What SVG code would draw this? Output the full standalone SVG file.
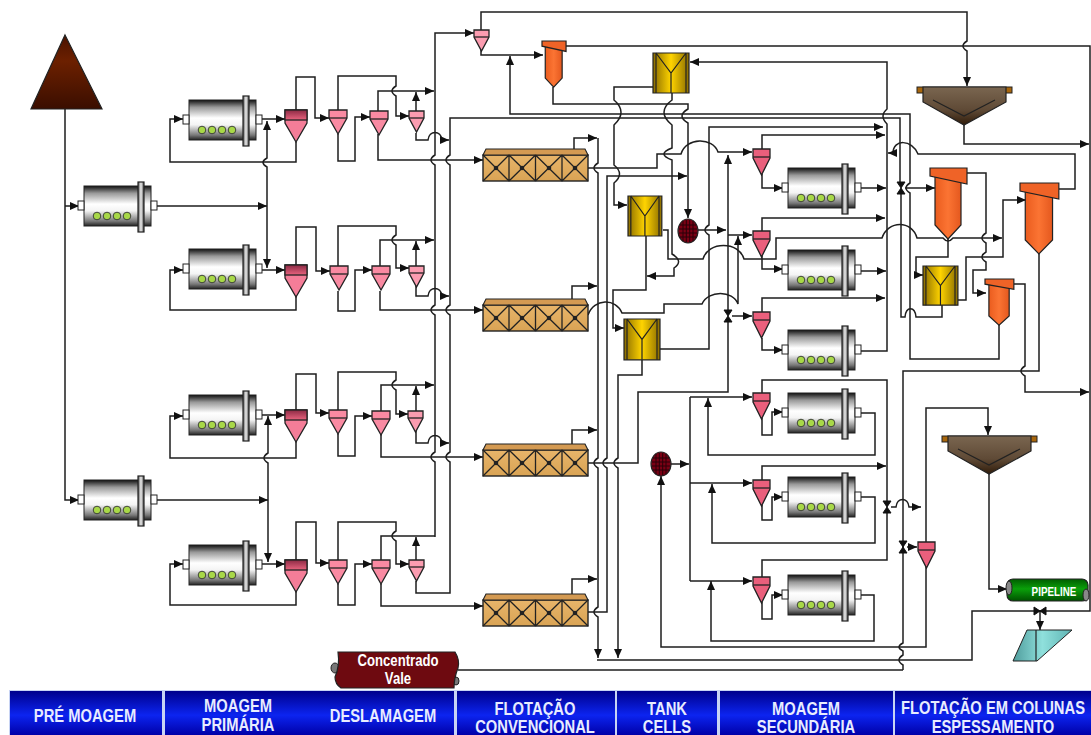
<svg xmlns="http://www.w3.org/2000/svg" width="1091" height="735" viewBox="0 0 1091 735">
<style>
.c path{fill:none;stroke:#1e1e1e;stroke-width:1.5}
.a{marker-end:url(#arrow)}
.s{stroke:#222;stroke-width:1.2;vector-effect:non-scaling-stroke}
.l{fill:none;stroke:#222;stroke-width:1.2;vector-effect:non-scaling-stroke}
.t{font-family:"Liberation Sans",Arial,sans-serif;font-weight:bold;fill:#fff;text-anchor:middle}
.b{font-size:18px;fill:#e8ecff}
</style>
<defs>
<marker id="arrow" markerUnits="userSpaceOnUse" markerWidth="10" markerHeight="8" refX="9" refY="4" orient="auto"><path d="M0,0L9,4L0,8Z" fill="#111"/></marker>
<linearGradient id="gMill" x1="0" y1="0" x2="0" y2="1"><stop offset="0" stop-color="#111"/><stop offset=".18" stop-color="#999"/><stop offset=".45" stop-color="#fff"/><stop offset=".62" stop-color="#f4f4f4"/><stop offset=".88" stop-color="#777"/><stop offset="1" stop-color="#222"/></linearGradient>
<linearGradient id="gFl" x1="0" y1="0" x2="1" y2="0"><stop offset="0" stop-color="#555"/><stop offset=".5" stop-color="#eee"/><stop offset="1" stop-color="#444"/></linearGradient>
<linearGradient id="gTri" x1="0" y1="0" x2="0" y2="1"><stop offset="0" stop-color="#4a1200"/><stop offset=".35" stop-color="#6c2000"/><stop offset="1" stop-color="#3a0e00"/></linearGradient>
<linearGradient id="gHead" x1="0" y1="0" x2="0" y2="1"><stop offset="0" stop-color="#8c2a44"/><stop offset="1" stop-color="#e9647f"/></linearGradient>
<linearGradient id="gYel" x1="0" y1="0" x2="1" y2="0"><stop offset="0" stop-color="#8a6c00"/><stop offset=".5" stop-color="#ffd400"/><stop offset="1" stop-color="#8a6c00"/></linearGradient>
<linearGradient id="gOr" x1="0" y1="0" x2="1" y2="0"><stop offset="0" stop-color="#ea5c1e"/><stop offset=".5" stop-color="#fb7433"/><stop offset="1" stop-color="#e4581e"/></linearGradient>
<linearGradient id="gBank" x1="0" y1="0" x2="0" y2="1"><stop offset="0" stop-color="#e8b56a"/><stop offset="1" stop-color="#d9a354"/></linearGradient>
<linearGradient id="gThick" x1="0" y1="0" x2="0" y2="1"><stop offset="0" stop-color="#7a6650"/><stop offset=".6" stop-color="#5f4a36"/><stop offset="1" stop-color="#301c0a"/></linearGradient>
<linearGradient id="gBar" x1="0" y1="0" x2="0" y2="1"><stop offset="0" stop-color="#00008c"/><stop offset=".55" stop-color="#0c24f0"/><stop offset="1" stop-color="#0000a8"/></linearGradient>
<linearGradient id="gPipe" x1="0" y1="0" x2="0" y2="1"><stop offset="0" stop-color="#005c00"/><stop offset=".45" stop-color="#0aa00a"/><stop offset="1" stop-color="#005000"/></linearGradient>
<linearGradient id="gTeal" x1="0" y1="0" x2="1" y2="0"><stop offset="0" stop-color="#4f9c9c"/><stop offset=".5" stop-color="#8fe0dc"/><stop offset="1" stop-color="#5fb4b4"/></linearGradient>
<g id="mill">
<rect width="67" height="40" fill="url(#gMill)" stroke="#222" stroke-width="1"/>
<rect x="54" y="-4" width="6" height="50" fill="url(#gFl)" stroke="#222" stroke-width="1.2"/>
<rect x="-6" y="15" width="6" height="9" fill="#fff" stroke="#222" stroke-width="1"/>
<rect x="67" y="15" width="6" height="9" fill="#fff" stroke="#222" stroke-width="1"/>
<g fill="#a8d848" stroke="#333" stroke-width=".9"><circle cx="13" cy="30" r="3.800"/><circle cx="23" cy="30" r="3.800"/><circle cx="33" cy="30" r="3.800"/><circle cx="43" cy="30" r="3.800"/></g>
</g>
<g id="cycL"><path d="M0,0H22V13L11,32L0,13Z" fill="#f47d98" stroke="#222" stroke-width="1.3"/><rect width="22" height="10" fill="url(#gHead)" stroke="#222" stroke-width="1.3"/></g>
<g id="cycM"><path d="M0,0H18V8L9,24L0,8Z" fill="#f98aa2" stroke="#222" stroke-width="1.3"/><path d="M0,8H18" stroke="#222" stroke-width="1.3"/></g>
<g id="cycS"><path d="M0,0H15V7L7.500,21L0,7Z" fill="#fb9cb0" stroke="#222" stroke-width="1.3"/><path d="M0,7H15" stroke="#222" stroke-width="1.3"/></g>
<g id="cycD"><path d="M0,0H17V9L8.500,26L0,9Z" fill="#ea5f7c" stroke="#222" stroke-width="1.3"/><path d="M0,8H17" stroke="#222" stroke-width="1.3"/></g>
<g id="bank">
<rect y="6" width="105" height="26" fill="url(#gBank)" stroke="#222" stroke-width="1.400"/>
<path d="M0,6L3,0H102L105,6Z" fill="#d49a52" stroke="#222" stroke-width="1.100"/>
<path d="M26,6V32M52.500,6V32M79,6V32M0,6L26,32M26,6L0,32M26,6L52.500,32M52.500,6L26,32M52.500,6L79,32M79,6L52.500,32M79,6L105,32M105,6L79,32" fill="none" stroke="#222" stroke-width="1.300"/>
<g fill="#222"><circle cx="13" cy="19" r="2.300"/><circle cx="39" cy="19" r="2.300"/><circle cx="66" cy="19" r="2.300"/><circle cx="92" cy="19" r="2.300"/></g>
</g>
<g id="col"><rect width="36" height="40" fill="url(#gYel)" class="s"/><path d="M3,0V40M33,0V40M3,0L18,20L33,0M18,20V40" class="l"/></g>
<g id="orange"><path d="M5,8H31V57L18,71L5,57Z" fill="url(#gOr)" class="s"/><path d="M0,0H37V16L0,8Z" fill="#ef6327" class="s"/></g>
<g id="screen"><ellipse rx="10" ry="12" fill="#7a0014" stroke="#222" stroke-width="1.2"/><path d="M-5,-10V10M-1.700,-11V11M1.700,-11V11M5,-10V10M-8,-6H8M-9,-2H9M-9,2H9M-8,6H8" stroke="#2a0008" stroke-width="1"/></g>
<g id="thick"><rect x="-6" y="0" width="95" height="6" fill="#a8660c" stroke="#222" stroke-width="1"/><path d="M0,0H83V15L41,38L0,15Z" fill="url(#gThick)" stroke="#222" stroke-width="1.2"/><path d="M10,13L41,29L72,13" fill="none" stroke="#222" stroke-width="1.2"/></g>
<path id="valve" d="M-4,-6H4L-4,6H4Z" fill="#111" stroke="#111"/>
</defs>

<g id="connectors" class="c">
<path class="a" d="M65,109V500H79"/>
<path class="a" d="M65,206H79"/>
<path class="a" d="M157,206H267"/>
<path class="a" d="M157,500H268"/>
<path class="a" d="M267,206V167Q259,162.500 267,158V121"/>
<path class="a" d="M267,206V268"/>
<path class="a" d="M268,500V463Q260,458 268,453V416"/>
<path class="a" d="M268,500V562"/>
<path class="a" d="M262,119H285"/>
<path class="a" d="M262,270H285"/>
<path class="a" d="M262,415H285"/>
<path class="a" d="M262,564H285"/>
<path class="a" d="M296,142V162H170V119H183"/>
<path class="a" d="M296,295V310H170V270H183"/>
<path class="a" d="M296,441V458H170V416H183"/>
<path class="a" d="M296,591V605H170V564H183"/>

<path class="a" d="M296,110V77H315V118H329"/>
<path class="a" d="M338,110V76H396V86Q388,91 396,96V116H409"/>
<path class="a" d="M378,111V91H434"/>
<path class="a" d="M416,111V92"/>
<path class="a" d="M338,134V161H355V117H370"/>
<path class="a" d="M378,134V160H483"/>
<path class="a" d="M416,133V140H428C429,130 441,130 442,140H449"/>

<path class="a" d="M296,265V227H316V271H330"/>
<path class="a" d="M338,266V226H396V235Q388,240 396,245V268H409"/>
<path class="a" d="M380,266V240H434"/>
<path class="a" d="M416,266V241"/>
<path class="a" d="M338,291V311H355V270H372"/>
<path class="a" d="M380,291V310H483"/>
<path class="a" d="M416,286V296H428C429,286 441,286 442,296H449"/>

<path class="a" d="M296,410V374H316V413H329"/>
<path class="a" d="M338,410V372H396V380Q388,385 396,390V414H408"/>
<path class="a" d="M381,411V385H434"/>
<path class="a" d="M416,411V386"/>
<path class="a" d="M338,434V456H355V416H372"/>
<path class="a" d="M381,434V457H483"/>
<path class="a" d="M416,431V443H428C429,433 441,433 442,443H449"/>

<path class="a" d="M296,560V522H316V563H329"/>
<path class="a" d="M338,560V522H396V531Q388,536 396,541V564H409"/>
<path d="M381,560V536H435"/>
<path class="a" d="M416,560V537"/>
<path class="a" d="M338,584V605H355V564H372"/>
<path class="a" d="M381,584V606H483"/>

<path class="a" d="M435,537V462Q427,457 435,452V315Q427,310 435,305V165Q427,160 435,155V33H474"/>
<path d="M416,581V593H450V462Q442,457 450,452V315Q442,310 450,305V165Q442,160 450,155V118H900V184"/>
<path d="M901,192V317H905C906,306 915,306 916,317H942V305"/>
<path class="a" d="M905,188H935"/>
<path class="a" d="M999,325V359H910V193Q902,188 910,183V114H510V56"/>
<path class="a" d="M481,30V12H967V41Q959,46 967,51V86"/>
<path class="a" d="M481,50V55H543"/>

<path class="a" d="M574,149V138H597"/>
<path class="a" d="M572,299V286H597"/>
<path class="a" d="M572,444V430H597"/>
<path class="a" d="M572,594V579H597"/>
<path class="a" d="M598,138V163Q590,168 598,173V458Q590,463 598,468V607Q590,612 598,617V658"/>
<path class="a" d="M588,612H607V468Q599,463 607,458V176H687"/>
<path class="a" d="M642,360V375H618V458Q610,463 618,468V658"/>
<path d="M597,660H972V611H1090V46H566"/>
<path d="M458,670H903"/>
<path d="M1039,254V371H903V643Q895,647 903,651V655Q895,660 903,665V670"/>
<path class="a" d="M926,565V647H661V476"/>

<path class="a" d="M653,87H614V100Q628,112 614,125V165Q625,174 614,183V205H627"/>
<path class="a" d="M672,93V100Q656,112 672,125V148Q656,154 672,160V254Q684,261 674,268V276H647"/>
<path class="a" d="M553,87V104H688V109Q676,116 688,123V218"/>
<path class="a" d="M646,236V290H613V328H624"/>
<path class="a" d="M660,349H709V235Q701,230 709,225V127H883"/>
<path class="a" d="M698,230H726"/>
<path class="a" d="M728,235H752"/>
<path class="a" d="M728,311V155"/>
<path d="M588,463H638V392H728V321"/>
<path class="a" d="M732,316H752"/>
<path class="a" d="M588,315C594,298 616,298 622,313H664V304H702C708,290 733,290 738,304V236"/>
<path class="a" d="M588,168H657V154H681C686,137 713,137 718,152H752"/>
<path class="a" d="M663,230H668V259H703C708,241 739,241 744,259H776V238H882C888,220 912,220 917,238H943Q948,244 953,238H1002"/>

<path class="a" d="M762,149V135H885"/>
<path class="a" d="M762,231V218H885"/>
<path class="a" d="M762,312V298H885"/>
<path class="a" d="M762,174V188H783"/>
<path class="a" d="M762,256V269H783"/>
<path class="a" d="M762,338V350H783"/>
<path class="a" d="M858,188H886"/>
<path class="a" d="M858,271H886"/>
<path class="a" d="M858,351H887V124Q879,116 887,109V62H690"/>

<path class="a" d="M1059,189H1075V154H918C912,139 893,139 893,153H888"/>
<path class="a" d="M948,239V257H916V275H923"/>
<path class="a" d="M967,173H986V233Q978,238 986,243V252Q978,257 986,262V270H973V293H986"/>
<path class="a" d="M958,300H966V257H1003V200H1026"/>
<path class="a" d="M964,125V144H1089"/>
<path class="a" d="M1014,284H1025V366Q1017,371 1025,376V392H1089"/>

<path class="a" d="M671,464H689"/>
<path d="M690,581V397"/>
<path class="a" d="M690,397H752"/>
<path class="a" d="M690,483H752"/>
<path class="a" d="M690,581H752"/>
<path class="a" d="M858,413H875V455H708V398"/>
<path class="a" d="M858,497H875V543H712V484"/>
<path class="a" d="M858,595H874V641H711V581"/>
<path class="a" d="M762,418V435H772V412H783"/>
<path class="a" d="M762,505V520H772V497H783"/>
<path class="a" d="M762,602V619H772V595H783"/>
<path d="M762,393V380H887V502"/>
<path class="a" d="M762,480V466H886"/>
<path d="M762,577V560H887V512"/>
<path class="a" d="M891,507H896C897,497 908,497 909,507H921"/>
<path class="a" d="M907,547H917"/>
<path class="a" d="M926,542V408H988V435"/>
<path class="a" d="M989,473V589H1007"/>
<path class="a" d="M1040,611V630"/>
</g>

<g id="stockpile"><path d="M65,35L102,109H31Z" fill="url(#gTri)" stroke="#222" stroke-width="1.2"/></g>

<g id="mill-pre1"><use href="#mill" x="84" y="186"/></g>
<g id="mill-pre2"><use href="#mill" x="84" y="480"/></g>
<g id="mill-p1"><use href="#mill" x="189" y="100"/></g>
<g id="mill-p2"><use href="#mill" x="189" y="249"/></g>
<g id="mill-p3"><use href="#mill" x="189" y="395"/></g>
<g id="mill-p4"><use href="#mill" x="189" y="545"/></g>
<g id="mill-s1"><use href="#mill" x="788" y="168"/></g>
<g id="mill-s2"><use href="#mill" x="788" y="250"/></g>
<g id="mill-s3"><use href="#mill" x="788" y="330"/></g>
<g id="mill-s4"><use href="#mill" x="788" y="393"/></g>
<g id="mill-s5"><use href="#mill" x="788" y="477"/></g>
<g id="mill-s6"><use href="#mill" x="788" y="575"/></g>

<g id="cyc-a1"><use href="#cycL" x="285" y="110"/></g>
<g id="cyc-b1"><use href="#cycM" x="329" y="110"/></g>
<g id="cyc-c1"><use href="#cycM" x="370" y="111"/></g>
<g id="cyc-d1"><use href="#cycS" x="409" y="111"/></g>
<g id="cyc-a2"><use href="#cycL" x="285" y="265"/></g>
<g id="cyc-b2"><use href="#cycM" x="330" y="266"/></g>
<g id="cyc-c2"><use href="#cycM" x="372" y="266"/></g>
<g id="cyc-d2"><use href="#cycS" x="409" y="266"/></g>
<g id="cyc-a3"><use href="#cycL" x="285" y="410"/></g>
<g id="cyc-b3"><use href="#cycM" x="329" y="410"/></g>
<g id="cyc-c3"><use href="#cycM" x="372" y="411"/></g>
<g id="cyc-d3"><use href="#cycS" x="408" y="411"/></g>
<g id="cyc-a4"><use href="#cycL" x="285" y="560"/></g>
<g id="cyc-b4"><use href="#cycM" x="329" y="560"/></g>
<g id="cyc-c4"><use href="#cycM" x="372" y="560"/></g>
<g id="cyc-d4"><use href="#cycS" x="409" y="560"/></g>
<g id="cyc-top"><use href="#cycS" x="474" y="30"/></g>
<g id="cyc-s1"><use href="#cycD" x="753" y="149"/></g>
<g id="cyc-s2"><use href="#cycD" x="753" y="231"/></g>
<g id="cyc-s3"><use href="#cycD" x="753" y="312"/></g>
<g id="cyc-s4"><use href="#cycD" x="753" y="393"/></g>
<g id="cyc-s5"><use href="#cycD" x="753" y="480"/></g>
<g id="cyc-s6"><use href="#cycD" x="753" y="577"/></g>
<g id="cyc-r"><use href="#cycD" x="918" y="542"/></g>

<g id="bank1"><use href="#bank" x="483" y="149"/></g>
<g id="bank2"><use href="#bank" x="483" y="299"/></g>
<g id="bank3"><use href="#bank" x="483" y="444"/></g>
<g id="bank4"><use href="#bank" x="483" y="594"/></g>

<g id="col1"><use href="#col" transform="translate(653,53)"/></g>
<g id="col2"><use href="#col" transform="translate(628,196) scale(.94,1)"/></g>
<g id="col3"><use href="#col" transform="translate(624,319) scale(1,1.02)"/></g>
<g id="col4"><use href="#col" transform="translate(923,266) scale(.97,.98)"/></g>

<g id="or1"><use href="#orange" transform="translate(542,41) scale(.65,.65)"/></g>
<g id="or2"><use href="#orange" transform="translate(930,168)"/></g>
<g id="or3"><use href="#orange" transform="translate(1020,183) scale(1.05,1)"/></g>
<g id="or4"><use href="#orange" transform="translate(985,279) scale(.78,.65)"/></g>

<g id="screen1"><use href="#screen" x="688" y="231"/></g>
<g id="screen2"><use href="#screen" x="661" y="464"/></g>

<g id="thick1"><use href="#thick" x="923" y="87"/></g>
<g id="thick2"><use href="#thick" x="948" y="436"/></g>

<g id="v1"><use href="#valve" x="901" y="188"/></g>
<g id="v2"><use href="#valve" x="728" y="316"/></g>
<g id="v3"><use href="#valve" x="887" y="507"/></g>
<g id="v4"><use href="#valve" x="903" y="547"/></g>
<g id="v5"><use href="#valve" transform="translate(1040,611) rotate(90)"/></g>

<g id="pipeline">
<rect x="1007" y="579" width="81" height="22" rx="6" fill="url(#gPipe)" stroke="#222" stroke-width="1.2"/>
<ellipse cx="1009" cy="588" rx="3" ry="7" fill="#888" stroke="#222"/>
<ellipse cx="1086" cy="595" rx="3" ry="6" fill="#888" stroke="#222"/>
<text class="t" transform="translate(1054,596) scale(.82,1)" font-size="12">PIPELINE</text>
</g>

<g id="tipper">
<path d="M1013,661L1027,630H1072L1037,661Z" fill="url(#gTeal)" stroke="#222" stroke-width="1"/>
<path d="M1036,630V661" stroke="#222" stroke-width="1.2"/>
</g>

<g id="concentrado">
<ellipse cx="335" cy="668" rx="4" ry="5" fill="#777" stroke="#222"/>
<ellipse cx="456" cy="681" rx="3" ry="4" fill="#777" stroke="#222"/>
<path d="M338,652H455Q460,660 458,668Q454,678 454,688H341Q335,684 335,677Q340,666 338,652Z" fill="#6e0a10" stroke="#222" stroke-width="1.2"/>
<text class="t" transform="translate(398,666) scale(.82,1)" font-size="16">Concentrado</text>
<text class="t" transform="translate(398,684) scale(.82,1)" font-size="16">Vale</text>
</g>

<g id="legend">
<rect x="9" y="690" width="1082" height="45" fill="#c8d4f4"/>
<rect x="10" y="691" width="152" height="44" fill="url(#gBar)"/>
<rect x="165" y="691" width="289" height="44" fill="url(#gBar)"/>
<rect x="457" y="691" width="158" height="44" fill="url(#gBar)"/>
<rect x="617" y="691" width="100" height="44" fill="url(#gBar)"/>
<rect x="720" y="691" width="173" height="44" fill="url(#gBar)"/>
<rect x="895" y="691" width="196" height="44" fill="url(#gBar)"/>
<text class="t b" transform="translate(85,722) scale(.82,1)">PRÉ MOAGEM</text>
<text class="t b" transform="translate(238,712) scale(.82,1)">MOAGEM</text>
<text class="t b" transform="translate(238,731) scale(.82,1)">PRIMÁRIA</text>
<text class="t b" transform="translate(383,722) scale(.82,1)">DESLAMAGEM</text>
<text class="t b" transform="translate(535,715) scale(.82,1)">FLOTAÇÃO</text>
<text class="t b" transform="translate(535,733) scale(.82,1)">CONVENCIONAL</text>
<text class="t b" transform="translate(667,715) scale(.82,1)">TANK</text>
<text class="t b" transform="translate(667,733) scale(.82,1)">CELLS</text>
<text class="t b" transform="translate(806,715) scale(.82,1)">MOAGEM</text>
<text class="t b" transform="translate(806,733) scale(.82,1)">SECUNDÁRIA</text>
<text class="t b" transform="translate(993,714) scale(.82,1)">FLOTAÇÃO EM COLUNAS</text>
<text class="t b" transform="translate(993,733) scale(.82,1)">ESPESSAMENTO</text>
</g>
</svg>
